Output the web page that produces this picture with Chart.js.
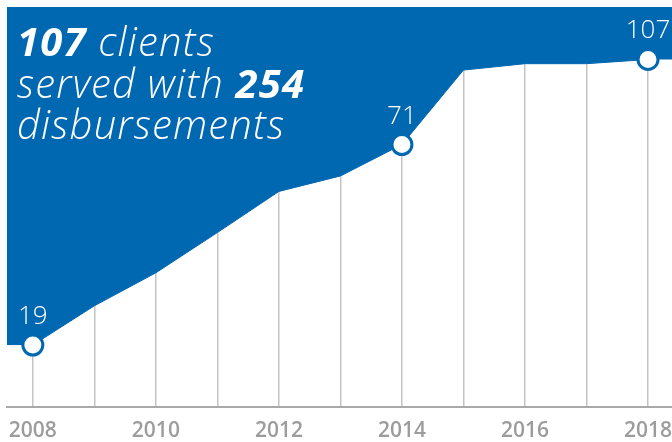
<!DOCTYPE html>
<html>
<head>
<meta charset="utf-8">
<script src="https://cdn.jsdelivr.net/npm/chart.js@4/dist/chart.umd.min.js"></script>
<style>
  html, body { margin: 0; padding: 0; background: #fff; }
  #wrap { position: relative; width: 672px; height: 442px; }
  #headline {
    position: absolute; left: 17px; top: 20px;
    color: #fff; font-family: 'Open Sans', sans-serif;
    font-size: 40px; line-height: 41.5px; font-style: italic; font-weight: 300;
    letter-spacing: 1.2px; pointer-events: none;
  }
  #headline b { font-weight: 700; }
</style>
</head>
<body>
<div id="wrap">
  <canvas id="clientsChart"></canvas>
  <div id="headline"><b>107</b> clients<br>served with <b>254</b><br>disbursements</div>
</div>
<script>
// ─── DATA ───
const years = [2008, 2009, 2010, 2011, 2012, 2013, 2014, 2015, 2016, 2017, 2018];
const clients = [19, 26, 33, 43, 55, 60, 71, 102, 105, 105, 107];
const markedYears = [2008, 2014, 2018];
const yearLabels = [2008, 2010, 2012, 2014, 2016, 2018];

const BLUE = '#0067b1';

// Power-law value axis (v^p) so the growth curve keeps its shape
class PowerScale extends Chart.LinearScale {
  _pow(v) { return Math.pow(Math.max(v, 0), this.options.exponent || 1); }
  getPixelForValue(value) {
    if (value === null) return NaN;
    const lo = this._pow(this.min), hi = this._pow(this.max);
    return this.getPixelForDecimal((this._pow(value) - lo) / (hi - lo));
  }
  getValueForPixel(pixel) {
    const lo = this._pow(this.min), hi = this._pow(this.max);
    const t = this.getDecimalForPixel(pixel);
    return Math.pow(lo + t * (hi - lo), 1 / (this.options.exponent || 1));
  }
}
PowerScale.id = 'power';
PowerScale.defaults = Chart.LinearScale.defaults;
Chart.register(PowerScale);

// Carry the blue band flat out to both chart edges (1px overlap hides the gridline seam)
const edgeFill = {
  id: 'edgeFill',
  beforeDatasetsDraw(chart) {
    const pts = chart.getDatasetMeta(0).data;
    const { left, right, top } = chart.chartArea;
    const first = pts[0], last = pts[pts.length - 1];
    const ctx = chart.ctx;
    ctx.save();
    ctx.fillStyle = BLUE;
    ctx.fillRect(left, top, first.x + 1 - left, first.y - top);
    ctx.fillRect(last.x - 1, top, right - last.x + 1, last.y - top);
    ctx.restore();
  }
};

// Value labels over the marked points + year labels under the axis
const labelPlugin = {
  id: 'labelPlugin',
  afterDraw(chart) {
    const ctx = chart.ctx;
    const pts = chart.getDatasetMeta(0).data;
    const xScale = chart.scales.x;
    ctx.save();
    ctx.textAlign = 'center';
    ctx.textBaseline = 'alphabetic';
    ctx.fillStyle = '#fff';
    ctx.font = "300 26px 'Open Sans', sans-serif";
    years.forEach((yr, i) => {
      if (!markedYears.includes(yr)) return;
      ctx.fillText(String(clients[i]), pts[i].x, pts[i].y - 21);
    });
    ctx.fillStyle = '#9c9c9c';
    ctx.font = "600 21px 'Open Sans', sans-serif";
    yearLabels.forEach(yr => {
      ctx.fillText(String(yr), xScale.getPixelForValue(yr), 437);
    });
    ctx.restore();
  }
};

new Chart(document.getElementById('clientsChart'), {
  type: 'line',
  data: {
    datasets: [{
      data: years.map((yr, i) => ({ x: yr, y: clients[i] })),
      borderColor: BLUE,
      borderWidth: 1,
      backgroundColor: BLUE,
      fill: 'end',
      tension: 0,
      pointRadius: ctx => markedYears.includes(years[ctx.dataIndex]) ? 10 : 0,
      pointBackgroundColor: '#fff',
      pointBorderColor: BLUE,
      pointBorderWidth: 3,
      clip: false
    }]
  },
  options: {
    responsive: true, maintainAspectRatio: false, animation: false,
    layout: { autoPadding: false, padding: { left: 7, top: 7, right: 0, bottom: 35 } },
    plugins: { legend: { display: false }, tooltip: { enabled: false } },
    scales: {
      x: {
        type: 'linear', min: 2007.58, max: 2018.39,
        ticks: { display: false, stepSize: 1, includeBounds: false },
        grid: { color: '#c4c4c4', lineWidth: 1.5, drawTicks: false },
        border: { display: true, color: '#a9a9a9', width: 2 }
      },
      y: {
        type: 'power', exponent: 0.37, min: 10.6, max: 134,
        display: false
      }
    }
  },
  plugins: [edgeFill, labelPlugin]
});
</script>
</body>
</html>
